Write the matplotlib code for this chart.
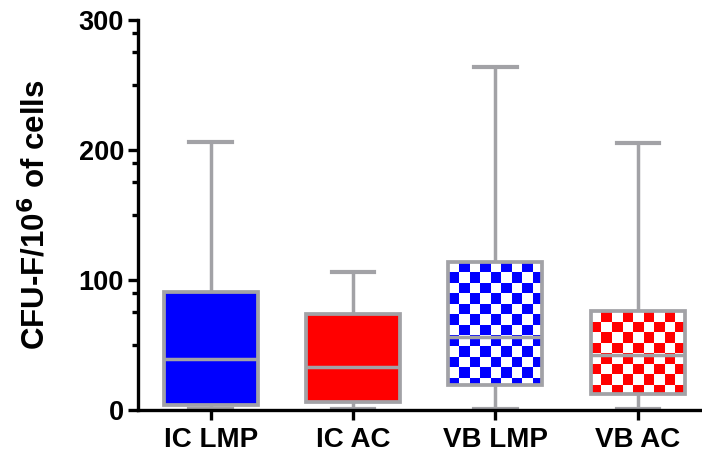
import numpy as np
import matplotlib.pyplot as plt
from matplotlib.patches import Rectangle
from matplotlib.colors import ListedColormap

# box plot summary values
groups = ['IC LMP', 'IC AC', 'VB LMP', 'VB AC']
mins = [1, 1, 0.5, 1]
q1 = [4, 6, 19, 12]
med = [39, 33, 56, 42]
q3 = [91, 74, 114, 76]
maxs = [206, 106, 264, 205]
fills = ['#0000ff', '#ff0000', '#0000ff', '#ff0000']
checker = [False, False, True, True]

major_ticks = [0, 100, 200, 300]
minor_ticks = [50, 75, 90, 150, 175, 190, 250, 275, 290]

gray = '#a2a2a6'

plt.rcParams['font.family'] = ['Liberation Sans', 'DejaVu Sans']
plt.rcParams['font.weight'] = 'bold'
plt.rcParams['mathtext.default'] = 'bf'

fig = plt.figure(figsize=(7.02, 4.59), dpi=100)
ax = fig.add_axes([0.1966, 0.1068, 0.8034, 0.8497])

stats = []
for g, a, b, c, d, e in zip(groups, mins, q1, med, q3, maxs):
    stats.append(dict(label=g, whislo=a, q1=b, med=c, q3=d, whishi=e, fliers=[]))

pos = np.arange(len(groups))
width = 0.66
bp = ax.bxp(stats, positions=pos, widths=width, capwidths=0.3,
            patch_artist=True, showfliers=False,
            boxprops=dict(edgecolor=gray, linewidth=2.7),
            whiskerprops=dict(color=gray, linewidth=2.5),
            capprops=dict(color=gray, linewidth=3.0),
            medianprops=dict(color=gray, linewidth=2.5, zorder=2.6))

# checkerboard fill cell size (data units)
cx, cy = 0.074, 8.1
for i, box in enumerate(bp['boxes']):
    box.set_zorder(2.5)
    if not checker[i]:
        box.set_facecolor(fills[i])
        continue
    box.set_facecolor('none')
    x0 = pos[i] - width / 2
    nx = int(np.ceil(width / cx))
    ny = int(np.ceil((q3[i] - q1[i]) / cy))
    arr = np.add.outer(np.arange(ny), np.arange(nx)) % 2
    xe = x0 + cx * np.arange(nx + 1)
    ye = q3[i] - cy * np.arange(ny + 1)
    clip = Rectangle((x0, q1[i]), width, q3[i] - q1[i], transform=ax.transData)
    mesh = ax.pcolormesh(xe, ye, arr, cmap=ListedColormap(['white', fills[i]]),
                         antialiased=False, edgecolors='none', zorder=2.2)
    mesh.set_clip_path(clip)

ax.set_xlim(-0.51, 3.45)
ax.set_ylim(0, 300)
ax.set_xticks(pos)
ax.set_xticklabels(groups)
ax.set_yticks(major_ticks)
ax.set_yticks(minor_ticks, minor=True)

for s in ['top', 'right']:
    ax.spines[s].set_visible(False)
for s in ['left', 'bottom']:
    ax.spines[s].set_linewidth(2.4)
    ax.spines[s].set_zorder(3)

ax.tick_params(axis='y', which='major', length=7, width=2.4, labelsize=19.5, pad=3)
ax.tick_params(axis='y', which='minor', length=4, width=2.4)
ax.tick_params(axis='x', length=7, width=2.4, labelsize=20, pad=5)

ax.set_ylabel('CFU-F/10$^6$ of cells', fontsize=22.5, fontweight='bold')
ax.yaxis.set_label_coords(-0.152, 0.5)

fig.savefig('out.png', dpi=100)
